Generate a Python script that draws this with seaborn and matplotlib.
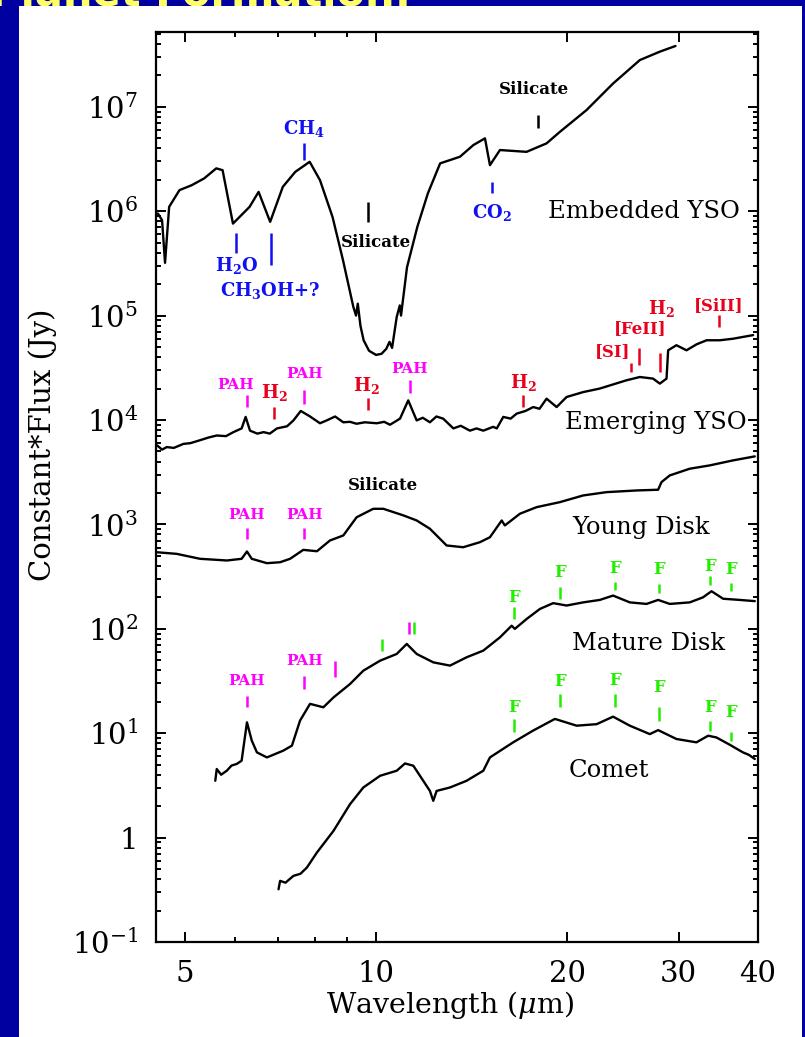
import numpy as np
import matplotlib
matplotlib.use('Agg')
import matplotlib.pyplot as plt
from matplotlib.patches import Rectangle
from matplotlib.ticker import LogLocator, NullFormatter, FixedLocator, FixedFormatter
import seaborn as sns

# Spectra (wavelength in micron, scaled flux in Jy)
embedded_wl = [4.53, 4.60, 4.65, 4.72, 4.90, 5.12, 5.36, 5.60, 5.73, 5.95, 6.32, 6.53,
               6.81, 7.13, 7.46, 7.86, 8.16, 8.54, 8.87, 9.21, 9.30, 9.36, 9.45, 9.56,
               9.75, 10.0, 10.2, 10.38, 10.5, 10.6, 10.78, 10.9, 10.95, 11.19, 11.62,
               12.07, 12.62, 13.56, 14.24, 14.85, 15.12, 15.68, 17.27, 18.57, 19.49,
               21.47, 23.64, 26.05, 28.01, 29.65]
embedded_flux = [9.5e5, 8.2e5, 3.2e5, 1.1e6, 1.59e6, 1.77e6, 2.06e6, 2.57e6, 2.47e6, 7.6e5,
                 1.1e6, 1.53e6, 7.9e5, 1.71e6, 2.38e6, 2.97e6, 1.98e6, 8.8e5, 3.4e5, 1.21e5,
                 1.0e5, 1.3e5, 8.0e4, 5.8e4, 4.6e4, 4.2e4, 4.3e4, 4.8e4, 5.6e4, 4.9e4,
                 9.7e4, 1.25e5, 1.0e5, 2.9e5, 7.1e5, 1.48e6, 2.87e6, 3.32e6, 4.3e6, 4.98e6,
                 2.76e6, 3.85e6, 3.7e6, 4.46e6, 5.75e6, 9.3e6, 1.67e7, 2.8e7, 3.37e7, 3.82e7]

emerging_wl = [4.52, 4.60, 4.68, 4.80, 4.97, 5.10, 5.28, 5.45, 5.61, 5.80, 5.96, 6.14,
               6.23, 6.33, 6.50, 6.65, 6.80, 6.98, 7.24, 7.41, 7.61, 7.87, 8.16, 8.36,
               8.62, 8.88, 9.10, 9.32, 9.60, 10.03, 10.30, 10.52, 10.91, 11.24, 11.59,
               11.85, 12.16, 12.45, 12.76, 13.24, 13.60, 14.06, 14.40, 14.76, 15.30, 15.50,
               15.87, 16.30, 16.66, 17.20, 17.69, 18.10, 18.57, 19.26, 19.97, 21.21, 22.53,
               23.70, 24.82, 26.05, 27.33, 28.01, 28.70, 28.87, 29.75, 30.86, 32.00, 33.19,
               34.82, 36.53, 39.30]
emerging_flux = [5.7e3, 5.2e3, 5.5e3, 5.4e3, 5.9e3, 6.0e3, 6.4e3, 6.8e3, 7.1e3, 7.0e3,
                 7.65e3, 8.3e3, 1.07e4, 7.9e3, 7.4e3, 7.65e3, 7.4e3, 8.3e3, 8.7e3, 9.9e3,
                 1.22e4, 1.08e4, 9.3e3, 9.9e3, 1.08e4, 9.5e3, 9.6e3, 9.2e3, 9.5e3, 9.3e3,
                 9.6e3, 9.0e3, 1.03e4, 1.54e4, 9.9e3, 1.05e4, 9.5e3, 1.08e4, 1.03e4, 8.3e3,
                 8.8e3, 7.9e3, 8.3e3, 7.9e3, 8.6e3, 8.3e3, 1.07e4, 1.03e4, 1.15e4, 1.22e4,
                 1.33e4, 1.28e4, 1.6e4, 1.33e4, 1.66e4, 1.85e4, 2.0e4, 2.2e4, 2.4e4, 2.58e4,
                 2.49e4, 2.23e4, 2.49e4, 4.65e4, 5.2e4, 4.65e4, 5.3e4, 5.8e4, 5.8e4, 6.0e4,
                 6.5e4]

young_wl = [4.51, 4.85, 5.28, 5.82, 6.14, 6.26, 6.37, 6.73, 7.06, 7.32, 7.68, 8.07, 8.46,
            8.88, 9.32, 9.90, 10.27, 11.04, 11.59, 12.16, 12.46, 12.92, 13.72, 14.58, 15.12,
            15.78, 15.96, 16.86, 17.91, 19.49, 21.21, 23.09, 25.75, 27.84, 28.18, 29.04,
            31.22, 33.57, 36.53, 39.54]
young_flux = [541, 522, 468, 451, 468, 550, 468, 425, 434, 468, 570, 553, 701, 783, 1170,
              1410, 1410, 1220, 1090, 908, 783, 628, 604, 675, 753, 1090, 977, 1265, 1462,
              1633, 1893, 2036, 2113, 2147, 2540, 2944, 3412, 3672, 4100, 4480]

mature_wl = [5.58, 5.61, 5.70, 5.82, 5.92, 6.03, 6.14, 6.26, 6.37, 6.49, 6.73, 7.14, 7.37,
             7.59, 7.87, 8.26, 8.57, 9.10, 9.55, 10.15, 10.78, 11.18, 11.59, 12.31, 13.08,
             13.89, 14.76, 15.68, 16.36, 16.55, 17.27, 18.13, 19.02, 19.97, 21.21, 22.53,
             23.64, 25.12, 26.69, 27.84, 29.04, 31.22, 32.76, 33.79, 35.24, 37.43, 39.54]
mature_flux = [3.5, 4.54, 4.0, 4.38, 4.9, 5.07, 5.45, 12.7, 8.5, 6.55, 5.86, 6.8, 7.6,
               13.2, 19.1, 17.7, 22, 29.6, 39.7, 49.5, 57.4, 71.6, 57.4, 47.7, 44.4, 53.3,
               61.8, 82.8, 107, 99.8, 124, 155, 176, 167, 179, 189, 208, 179, 173, 189, 173,
               179, 200, 229, 194, 189, 184]

comet_wl = [7.02, 7.06, 7.20, 7.41, 7.60, 7.78, 8.07, 8.57, 9.10, 9.55, 10.15, 10.78,
            11.11, 11.45, 11.87, 12.16, 12.31, 12.46, 13.08, 13.89, 14.76, 15.12, 16.45,
            17.69, 19.14, 20.71, 22.27, 23.64, 25.12, 27.01, 27.84, 29.75, 31.99, 33.38,
            34.40, 36.09, 37.87, 38.70, 39.54]
comet_flux = [0.32, 0.385, 0.37, 0.43, 0.45, 0.516, 0.72, 1.16, 2.09, 3.02, 3.91, 4.37,
              5.13, 4.88, 3.5, 2.8, 2.25, 2.8, 3.02, 3.5, 4.37, 5.86, 8.17, 10.6, 13.7,
              11.8, 12.2, 14.4, 11.8, 9.8, 10.7, 8.8, 8.17, 9.46, 9.1, 7.76, 6.55, 6.2,
              5.66]

spectra = [(embedded_wl, embedded_flux), (emerging_wl, emerging_flux),
           (young_wl, young_flux), (mature_wl, mature_flux), (comet_wl, comet_flux)]

# Object names and where they sit
object_names = ['Embedded YSO', 'Emerging YSO', 'Young Disk', 'Mature Disk', 'Comet']
object_wl = [26.47, 27.58, 26.21, 26.89, 23.27]
object_flux = [1.0e6, 9.5e3, 940, 71.6, 4.38]

xtick_values = [5, 10, 20, 30, 40]
xtick_labels = ['5', '10', '20', '30', '40']
ytick_values = [1e-1, 1, 1e1, 1e2, 1e3, 1e4, 1e5, 1e6, 1e7]
ytick_labels = [r'$10^{-1}$', '1', r'$10^{1}$', r'$10^{2}$', r'$10^{3}$',
                r'$10^{4}$', r'$10^{5}$', r'$10^{6}$', r'$10^{7}$']

BLUE = '#1010f0'
MAG = '#ff00ff'
RED = '#e8001c'
GREEN = '#22ee00'

# feature marks: (label, tick wavelength, tick bottom, tick top, label wl, label flux, colour, size)
features = [
    (r'CH$_\mathbf{4}$', 7.71, 3.08e6, 4.49e6, 7.71, 6.25e6, BLUE, 13),
    (r'H$_\mathbf{2}$O', 6.02, 3.96e5, 6.15e5, 6.02, 3.03e5, BLUE, 13),
    (r'CH$_\mathbf{3}$OH+?', 6.83, 3.03e5, 6.15e5, 6.81, 1.75e5, BLUE, 13),
    ('Silicate', 9.72, 7.85e5, 1.22e6, 10.0, 4.97e5, 'black', 12),
    (r'CO$_\mathbf{2}$', 15.23, 1.49e6, 1.9e6, 15.23, 9.8e5, BLUE, 13),
    ('Silicate', 18.03, 6.25e6, 8.3e6, 17.74, 1.45e7, 'black', 12),
    ('PAH', 6.26, 1.33e4, 1.72e4, 6.01, 2.15e4, MAG, 11),
    (r'H$_\mathbf{2}$', 6.91, 1.03e4, 1.33e4, 6.91, 1.85e4, RED, 13),
    ('PAH', 7.71, 1.43e4, 1.92e4, 7.71, 2.78e4, MAG, 11),
    (r'H$_\mathbf{2}$', 9.72, 1.24e4, 1.61e4, 9.64, 2.15e4, RED, 13),
    ('PAH', 11.31, 1.8e4, 2.4e4, 11.31, 3.1e4, MAG, 11),
    (r'H$_\mathbf{2}$', 17.06, 1.33e4, 1.72e4, 17.06, 2.31e4, RED, 13),
    ('[SI]', 25.21, 2.88e4, 3.49e4, 23.57, 4.48e4, RED, 12),
    ('[FeII]', 25.98, 3.34e4, 4.86e4, 26.05, 7.5e4, RED, 12),
    (r'H$_\mathbf{2}$', 28.01, 2.88e4, 4.35e4, 28.2, 1.17e5, RED, 13),
    ('[SiII]', 34.71, 7.78e4, 1.01e5, 34.71, 1.26e5, RED, 12),
    ('Silicate', None, None, None, 10.24, 2360, 'black', 12),
    ('PAH', 6.26, 732, 933, 6.26, 1217, MAG, 11),
    ('PAH', 7.71, 732, 933, 7.71, 1217, MAG, 11),
    ('PAH', 6.26, 17.7, 22.9, 6.26, 31.4, MAG, 11),
    ('PAH', 7.71, 26.5, 35.6, 7.71, 49.5, MAG, 11),
    ('', 8.62, 34.8, 49.5, None, None, MAG, 11),
    ('', 10.21, 61.8, 80.6, None, None, GREEN, 11),
    ('', 11.26, 89.3, 115, None, None, MAG, 11),
    ('', 11.47, 89.3, 115, None, None, GREEN, 11),
    ('F', 16.50, 124, 161, 16.50, 200, GREEN, 12),
    ('F', 19.49, 194, 250, 19.49, 348, GREEN, 12),
    ('F', 23.78, 236, 279, 23.78, 375, GREEN, 12),
    ('F', 27.91, 219, 270, 27.91, 366, GREEN, 12),
    ('F', 33.66, 265, 317, 33.66, 394, GREEN, 12),
    ('F', 36.22, 229, 273, 36.22, 366, GREEN, 12),
    ('F', 16.50, 10.2, 13.7, 16.50, 17.7, GREEN, 12),
    ('F', 19.49, 17.7, 23.8, 19.49, 31.4, GREEN, 12),
    ('F', 23.78, 17.7, 23.8, 23.78, 31.9, GREEN, 12),
    ('F', 27.91, 13.2, 17.7, 27.91, 27.5, GREEN, 12),
    ('F', 33.66, 10.4, 13.0, 33.66, 17.7, GREEN, 12),
    ('F', 36.22, 8.47, 10.2, 36.22, 15.8, GREEN, 12),
]

sns.set_theme(style='ticks')
plt.rcParams['font.family'] = ['DejaVu Serif']
plt.rcParams['mathtext.fontset'] = 'custom'
plt.rcParams['mathtext.rm'] = 'DejaVu Serif'
plt.rcParams['mathtext.it'] = 'DejaVu Serif:italic'
plt.rcParams['mathtext.bf'] = 'DejaVu Serif:bold'

fig = plt.figure(figsize=(8.05, 10.37), dpi=100, facecolor='#0000a0')

# white slide panel and the cut-off slide title
fig.text(-0.012, 1 - 5 / 1037, 'Planet Formation:', color='#ffff66', fontsize=30,
         fontweight='bold', family='DejaVu Sans', va='baseline', ha='left', zorder=0.2)
fig.add_artist(Rectangle((19 / 805, 0), (802 - 19) / 805, 1 - 6 / 1037,
                         transform=fig.transFigure, facecolor='white',
                         edgecolor='none', zorder=0.5))

ax = fig.add_axes([156 / 805, 1 - 942 / 1037, (758 - 156) / 805, (942 - 32) / 1037])
ax.set_zorder(2)
ax.set_facecolor('white')

for wl, flux in spectra:
    sns.lineplot(x=wl, y=flux, ax=ax, color='black', linewidth=1.7, sort=False,
                 estimator=None)

ax.set_xscale('log')
ax.set_yscale('log')
ax.set_xlim(4.5, 40)
ax.set_ylim(0.1, 5.2e7)

for label, twl, lo, hi, lwl, lflux, col, size in features:
    if twl is not None:
        ax.plot([twl, twl], [lo, hi], color=col, linewidth=1.8, solid_capstyle='butt')
    if label:
        ax.text(lwl, lflux, label, color=col, fontsize=size, fontweight='bold',
                ha='center', va='center')

for name, wl, flux in zip(object_names, object_wl, object_flux):
    ax.text(wl, flux, name, fontsize=17.5, ha='center', va='center', color='black')

ax.xaxis.set_major_locator(FixedLocator(xtick_values))
ax.xaxis.set_major_formatter(FixedFormatter(xtick_labels))
ax.xaxis.set_minor_locator(FixedLocator([6, 7, 8, 9]))
ax.xaxis.set_minor_formatter(NullFormatter())
ax.yaxis.set_major_locator(FixedLocator(ytick_values))
ax.yaxis.set_major_formatter(FixedFormatter(ytick_labels))
ax.yaxis.set_minor_locator(LogLocator(base=10, subs=np.arange(2, 10), numticks=100))
ax.yaxis.set_minor_formatter(NullFormatter())

ax.tick_params(which='both', direction='in', top=True, right=True, colors='black',
               width=1.4, labelsize=21)
ax.tick_params(which='major', length=7)
ax.tick_params(axis='y', which='major', pad=13)
ax.tick_params(axis='x', which='major', pad=13)
ax.tick_params(which='minor', length=3.8)
for sp in ax.spines.values():
    sp.set_linewidth(1.6)
    sp.set_color('black')

ax.set_xlabel(r'Wavelength ($\mu$m)', fontsize=20.5, color='black')
ax.set_ylabel('Constant*Flux (Jy)', fontsize=21, color='black')
ax.xaxis.label.set_va('center')
ax.yaxis.label.set_va('center')
ax.xaxis.set_label_coords(0.488, -0.069)
ax.yaxis.set_label_coords(-0.188, 0.546)

fig.savefig('out.png', dpi=100, facecolor=fig.get_facecolor())
